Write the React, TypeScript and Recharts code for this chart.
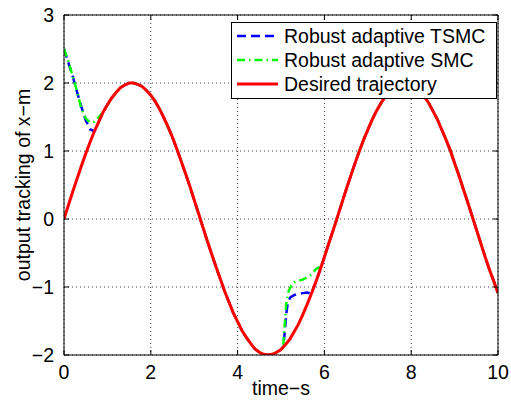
import React from 'react';
import { LineChart, Line, XAxis, YAxis, CartesianGrid, Legend } from 'recharts';

// Reference signal sampled every 0.1 s from 0 to 10 s
const TIME_STEP = 0.1;
const DESIRED = [
  0, 0.2, 0.4, 0.59, 0.78, 0.96, 1.13, 1.29, 1.43, 1.57,
  1.68, 1.78, 1.86, 1.93, 1.97, 2.0, 2.0, 1.98, 1.95, 1.89,
  1.82, 1.73, 1.62, 1.49, 1.35, 1.2, 1.03, 0.85, 0.67, 0.48,
  0.28, 0.08, -0.12, -0.32, -0.51, -0.7, -0.88, -1.06, -1.22, -1.38,
  -1.51, -1.64, -1.74, -1.83, -1.91, -1.96, -1.99, -2.0, -1.99, -1.96,
  -1.92, -1.85, -1.77, -1.66, -1.55, -1.41, -1.26, -1.1, -0.93, -0.75,
  -0.56, -0.36, -0.17, 0.03, 0.23, 0.43, 0.62, 0.81, 0.99, 1.16,
  1.31, 1.46, 1.59, 1.7, 1.8, 1.88, 1.94, 1.98, 2.0, 2.0,
  1.98, 1.94, 1.88, 1.8, 1.71, 1.59, 1.47, 1.32, 1.17, 1.01,
  0.82, 0.64, 0.44, 0.25, 0.05, -0.15, -0.35, -0.55, -0.74, -0.91,
  -1.09,
];

// Terminal sliding mode controller: transients where it departs from the reference
const TSMC_START_T = [0, 0.1, 0.2, 0.3, 0.4, 0.5, 0.6, 0.7];
const TSMC_START_V = [2.5, 2.3, 2.1, 1.87, 1.65, 1.45, 1.32, 1.29];
const TSMC_JUMP_T = [5.0, 5.05, 5.09, 5.12, 5.16, 5.22, 5.3, 5.4, 5.5, 5.6, 5.7];
const TSMC_JUMP_V = [-1.92, -1.88, -1.65, -1.4, -1.22, -1.15, -1.12, -1.1, -1.09, -1.08, -1.1];

// Conventional sliding mode controller transients
const SMC_START_T = [0, 0.1, 0.2, 0.3, 0.4, 0.5, 0.6, 0.7, 0.8, 0.9];
const SMC_START_V = [2.5, 2.32, 2.1, 1.88, 1.62, 1.48, 1.42, 1.43, 1.5, 1.57];
const SMC_JUMP_T = [5.0, 5.05, 5.08, 5.12, 5.18, 5.25, 5.3, 5.4, 5.5, 5.6, 5.7, 5.8, 5.9, 6.0];
const SMC_JUMP_V = [-1.92, -1.9, -1.6, -1.25, -1.05, -0.97, -0.93, -0.91, -0.89, -0.86, -0.82, -0.74, -0.7, -0.56];

const X_TICKS = [0, 2, 4, 6, 8, 10];
const Y_TICKS = [-2, -1, 0, 1, 2, 3];

const SERIES_TSMC = 'Robust adaptive TSMC';
const SERIES_SMC = 'Robust adaptive SMC';
const SERIES_DESIRED = 'Desired trajectory';
const LEGEND_ORDER = [SERIES_TSMC, SERIES_SMC, SERIES_DESIRED];
const X_LABEL = 'time\u2212s';
const Y_LABEL = 'output tracking of x\u2212m';

type Pt = { t: number; v: number };

const FONT = '"Liberation Sans", Arial, Helvetica, sans-serif';
const FONT_SIZE = 19.5;

const desiredPoints: Pt[] = DESIRED.map((v, i) => ({ t: Math.round(i * TIME_STEP * 100) / 100, v }));

// Where the controller tracks perfectly it follows the reference; transient segments replace it.
function tracked(segments: [number[], number[]][]): Pt[] {
  const inside = (t: number) =>
    segments.some(([ts]) => t >= ts[0] - 1e-9 && t <= ts[ts.length - 1] + 1e-9);
  const pts: Pt[] = desiredPoints.filter((p) => !inside(p.t));
  segments.forEach(([ts, vs]) => ts.forEach((t, i) => pts.push({ t, v: vs[i] })));
  return pts.sort((a, b) => a.t - b.t);
}

const tsmcPoints = tracked([
  [TSMC_START_T, TSMC_START_V],
  [TSMC_JUMP_T, TSMC_JUMP_V],
]);
const smcPoints = tracked([
  [SMC_START_T, SMC_START_V],
  [SMC_JUMP_T, SMC_JUMP_V],
]);

const STYLES: Record<string, { color: string; dash?: string; width: number }> = {
  [SERIES_TSMC]: { color: '#0000ff', dash: '9 5', width: 2.5 },
  [SERIES_SMC]: { color: '#00ff00', dash: '8 4 1.5 4', width: 2.5 },
  [SERIES_DESIRED]: { color: '#ff0000', width: 3 },
};

const minus = (v: number) => String(v).replace('-', '\u2212');

const BottomTick = (props: any) => {
  const { x, y, payload } = props;
  return (
    <g>
      <line x1={x} x2={x} y1={y} y2={y - 5} stroke="#000" strokeWidth={1} />
      <text x={x} y={y + 24} textAnchor="middle" fontFamily={FONT} fontSize={FONT_SIZE} fill="#000">
        {minus(payload.value)}
      </text>
    </g>
  );
};

const TopTick = (props: any) => {
  const { x, y } = props;
  return <line x1={x} x2={x} y1={y} y2={y + 5} stroke="#000" strokeWidth={1} />;
};

const LeftTick = (props: any) => {
  const { x, y, payload } = props;
  return (
    <g>
      <line x1={x} x2={x + 5} y1={y} y2={y} stroke="#000" strokeWidth={1} />
      <text
        x={x - 10}
        y={y}
        textAnchor="end"
        dominantBaseline="central"
        fontFamily={FONT}
        fontSize={FONT_SIZE}
        fill="#000"
      >
        {minus(payload.value)}
      </text>
    </g>
  );
};

const RightTick = (props: any) => {
  const { x, y } = props;
  return <line x1={x} x2={x - 5} y1={y} y2={y} stroke="#000" strokeWidth={1} />;
};

const LegendBox = (props: any) => {
  const items: any[] = props.payload || [];
  const names = LEGEND_ORDER.filter((n) => items.some((it) => it.value === n));
  return (
    <div
      style={{
        border: '1px solid #000',
        background: '#fff',
        width: 264,
        height: 74,
        paddingTop: 1,
        boxSizing: 'content-box',
        fontFamily: FONT,
        fontSize: FONT_SIZE,
        color: '#000',
      }}
    >
      {names.map((name) => {
        const st = STYLES[name];
        return (
          <div key={name} style={{ height: 24, display: 'flex', alignItems: 'center', lineHeight: '24px' }}>
            <svg width={52} height={24} style={{ display: 'block' }}>
              <line
                x1={5}
                x2={46}
                y1={12}
                y2={12}
                stroke={st.color}
                strokeWidth={st.width}
                strokeDasharray={st.dash}
              />
            </svg>
            <span style={{ whiteSpace: 'nowrap' }}>{name}</span>
          </div>
        );
      })}
    </div>
  );
};

const YLabel = (props: any) => {
  const vb = props.viewBox || {};
  const cy = vb.y + vb.height / 2;
  const cx = 23;
  return (
    <text
      x={cx}
      y={cy}
      transform={`rotate(-90, ${cx}, ${cy})`}
      textAnchor="middle"
      dominantBaseline="central"
      fontFamily={FONT}
      fontSize={FONT_SIZE}
      fill="#000"
    >
      {Y_LABEL}
    </text>
  );
};

const XLabel = (props: any) => {
  const vb = props.viewBox || {};
  const cx = vb.x + vb.width / 2;
  return (
    <text x={cx} y={vb.y + 40} textAnchor="middle" fontFamily={FONT} fontSize={FONT_SIZE} fill="#000">
      {X_LABEL}
    </text>
  );
};

export default function App() {
  return (
    <div style={{ position: 'absolute', left: 0, top: 0, width: 511, height: 404, background: '#fff' }}>
      <LineChart width={511} height={404} margin={{ top: 14, right: 12, bottom: 0, left: 4 }}>
        <CartesianGrid stroke="#000" strokeWidth={1} strokeDasharray="1 3" strokeOpacity={0.75} />
        <XAxis
          type="number"
          dataKey="t"
          domain={[0, 10]}
          ticks={X_TICKS}
          height={49}
          tickSize={0}
          tickMargin={0}
          tickLine={false}
          tick={<BottomTick />}
          axisLine={{ stroke: '#000', strokeWidth: 1 }}
          allowDataOverflow
          label={<XLabel />}
        />
        <XAxis
          xAxisId="top"
          orientation="top"
          type="number"
          dataKey="t"
          domain={[0, 10]}
          ticks={X_TICKS}
          height={1}
          tickSize={0}
          tickMargin={0}
          tickLine={false}
          tick={<TopTick />}
          axisLine={{ stroke: '#000', strokeWidth: 1 }}
          allowDataOverflow
        />
        <YAxis
          type="number"
          domain={[-2, 3]}
          ticks={Y_TICKS}
          width={60}
          tickSize={0}
          tickMargin={0}
          tickLine={false}
          tick={<LeftTick />}
          axisLine={{ stroke: '#000', strokeWidth: 1 }}
          allowDataOverflow
          label={<YLabel />}
        />
        <YAxis
          yAxisId="right"
          orientation="right"
          type="number"
          domain={[-2, 3]}
          ticks={Y_TICKS}
          width={1}
          tickSize={0}
          tickMargin={0}
          tickLine={false}
          tick={<RightTick />}
          axisLine={{ stroke: '#000', strokeWidth: 1 }}
          allowDataOverflow
        />
        <Legend
          layout="vertical"
          align="center"
          verticalAlign="middle"
          content={<LegendBox />}
          wrapperStyle={{ position: 'absolute', left: 231, top: 22, width: 'auto' }}
        />
        <Line
          data={tsmcPoints}
          dataKey="v"
          name={SERIES_TSMC}
          stroke={STYLES[SERIES_TSMC].color}
          strokeWidth={STYLES[SERIES_TSMC].width}
          strokeDasharray={STYLES[SERIES_TSMC].dash}
          dot={false}
          activeDot={false}
          isAnimationActive={false}
        />
        <Line
          data={smcPoints}
          dataKey="v"
          name={SERIES_SMC}
          stroke={STYLES[SERIES_SMC].color}
          strokeWidth={STYLES[SERIES_SMC].width}
          strokeDasharray={STYLES[SERIES_SMC].dash}
          dot={false}
          activeDot={false}
          isAnimationActive={false}
        />
        <Line
          data={desiredPoints}
          dataKey="v"
          name={SERIES_DESIRED}
          stroke={STYLES[SERIES_DESIRED].color}
          strokeWidth={STYLES[SERIES_DESIRED].width}
          dot={false}
          activeDot={false}
          isAnimationActive={false}
        />
      </LineChart>
    </div>
  );
}
